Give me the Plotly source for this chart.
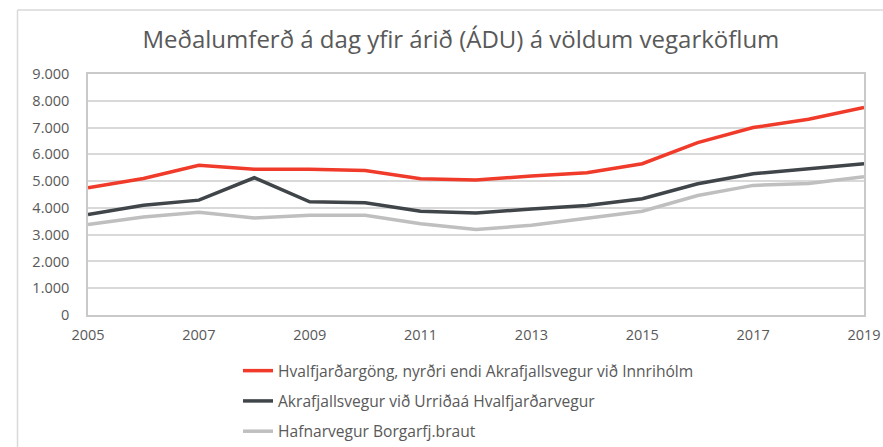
import plotly.graph_objects as go

years = list(range(2005, 2020))
names = [
    "Hvalfjarðargöng, nyrðri endi Akrafjallsvegur við Innrihólm",
    "Akrafjallsvegur við Urriðaá Hvalfjarðarvegur",
    "Hafnarvegur Borgarfj.braut",
]
hvalfjardargong = [4750, 5100, 5590, 5440, 5440, 5400, 5090, 5040, 5190, 5310, 5650, 6440, 7000, 7310, 7750]
akrafjallsvegur = [3750, 4100, 4290, 5125, 4225, 4190, 3875, 3810, 3960, 4090, 4340, 4900, 5275, 5460, 5650]
hafnarvegur = [3375, 3660, 3840, 3625, 3725, 3725, 3410, 3190, 3350, 3600, 3875, 4460, 4840, 4910, 5160]
series = [hvalfjardargong, akrafjallsvegur, hafnarvegur]
colors = ["#f03a2a", "#404549", "#bfbfbf"]

W, H = 883, 447
L, R, T, B = 88, 19, 74, 132
pw, ph = W - L - R, H - T - B

def px(x):
    return (x - L) / pw

def py(y):
    return (H - B - y) / ph

fig = go.Figure()
for i, (n, s, c) in enumerate(zip(names, series, colors)):
    fig.add_trace(go.Scatter(x=years, y=s, mode="lines", name=n, legendgroup=f"g{i}",
                             line=dict(color=c, width=3.5)))

fig.update_layout(
    width=W, height=H,
    margin=dict(l=L, r=R, t=T, b=B, autoexpand=False),
    paper_bgcolor="white", plot_bgcolor="white",
    separators=",.",
    font=dict(family="Open Sans, sans-serif", color="#595959", size=14),
    title=dict(text="Meðalumferð á dag yfir árið (ÁDU) á völdum vegarköflum",
               x=0.522, xanchor="center", y=1 - 40 / H, yanchor="middle",
               font=dict(size=24, color="#595959")),
    xaxis=dict(range=[2005, 2019], tickmode="linear", tick0=2005, dtick=2,
               showgrid=False, showline=True, linecolor="#c9c9c9", linewidth=1.5,
               mirror=True, ticks="", ticklabelstandoff=6, zeroline=False,
               tickfont=dict(size=14.5, color="#595959")),
    yaxis=dict(range=[0, 9000], tickmode="linear", tick0=0, dtick=1000,
               tickformat=",.0f", showgrid=True, gridcolor="#d9d9d9", gridwidth=1.5,
               showline=True, linecolor="#c9c9c9", linewidth=1.5, mirror=True,
               ticks="", ticklabelstandoff=14, zeroline=False,
               tickfont=dict(size=14.5, color="#595959")),
    legend=dict(x=px(238), xanchor="left", y=py(354), yanchor="top",
                traceorder="grouped", tracegroupgap=7,
                font=dict(size=15.6, color="#595959"), bgcolor="rgba(0,0,0,0)"),
    shapes=[
        dict(type="line", xref="paper", yref="paper", x0=px(17.5), x1=px(17.5), y0=py(10), y1=py(447),
             line=dict(color="#d9d9d9", width=1.5)),
        dict(type="line", xref="paper", yref="paper", x0=px(17.5), x1=px(883), y0=py(10), y1=py(10),
             line=dict(color="#d9d9d9", width=1.5)),
    ],
)

fig.write_html("out.html", config={"displayModeBar": False},
               post_script="document.body.style.margin='0';document.body.style.overflow='hidden';")
